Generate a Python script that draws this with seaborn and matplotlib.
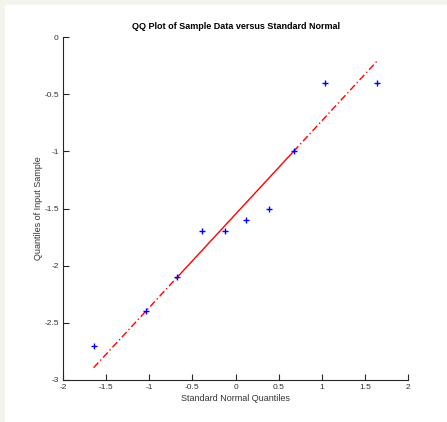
import matplotlib
matplotlib.use("Agg")
import seaborn as sns
import matplotlib.pyplot as plt
from matplotlib.patches import Rectangle

# data
normal_quantiles = [-1.645, -1.036, -0.674, -0.385, -0.126, 0.126, 0.385, 0.674, 1.036, 1.645]
sample_values = [-2.7, -2.4, -2.1, -1.7, -1.7, -1.6, -1.5, -1.0, -0.4, -0.4]
x_ticks = [-2, -1.5, -1, -0.5, 0, 0.5, 1, 1.5, 2]
y_ticks = [-3, -2.5, -2, -1.5, -1, -0.5, 0]

# reference line through the first and third quartiles
qx1, qy1 = normal_quantiles[2], sample_values[2]
qx3, qy3 = normal_quantiles[7], sample_values[7]
slope = (qy3 - qy1) / (qx3 - qx1)
def ref_y(x):
    return qy1 + slope * (x - qx1)

inner_x = [qx1, qx3]
outer_lo_x = [normal_quantiles[0], qx1]
outer_hi_x = [qx3, normal_quantiles[-1]]

sns.set_theme(style="white")
plt.rcParams["font.family"] = ["Liberation Sans", "DejaVu Sans"]
plt.rcParams["axes.unicode_minus"] = False

fig = plt.figure(figsize=(4.47, 4.22), dpi=100, facecolor="white")
fig.patches.append(Rectangle((0, 0), 1, 1, transform=fig.transFigure,
                             facecolor="#f4f4ee", edgecolor="none", zorder=-2))
fig.patches.append(Rectangle((5 / 447, 0), 1, 1 - 5 / 422, transform=fig.transFigure,
                             facecolor="white", edgecolor="none", zorder=-1))
ax = fig.add_axes([63 / 447, 42 / 422, 345 / 447, 343 / 422])
ax.set_facecolor("white")

dashdot = (0, (5, 2, 1, 2))
sns.lineplot(x=outer_lo_x, y=[ref_y(v) for v in outer_lo_x], ax=ax,
             color="red", linestyle=dashdot, linewidth=1.0)
sns.lineplot(x=outer_hi_x, y=[ref_y(v) for v in outer_hi_x], ax=ax,
             color="red", linestyle=dashdot, linewidth=1.0)
sns.lineplot(x=inner_x, y=[ref_y(v) for v in inner_x], ax=ax,
             color="red", linestyle="-", linewidth=1.0)
sns.scatterplot(x=normal_quantiles, y=sample_values, ax=ax, marker="+",
                color="blue", s=20, linewidth=1.0, zorder=3)

ax.set_xlim(-2, 2)
ax.set_ylim(-3, 0)
ax.set_xticks(x_ticks)
ax.set_yticks(y_ticks)
ax.set_xticklabels([f"{t:g}" for t in x_ticks])
ax.set_yticklabels([f"{t:g}" for t in y_ticks])

for side in ["top", "right"]:
    ax.spines[side].set_visible(False)
for side in ["left", "bottom"]:
    ax.spines[side].set_color("#262626")
    ax.spines[side].set_linewidth(0.8)
ax.tick_params(direction="in", length=4, width=0.8, colors="#262626",
               labelsize=6, labelcolor="#333333", pad=3, left=True, bottom=True)

ax.set_xlabel("Standard Normal Quantiles", fontsize=6.5, color="#333333", labelpad=2)
ax.set_ylabel("Quantiles of Input Sample", fontsize=6.5, color="#333333", labelpad=1)
ax.set_title("QQ Plot of Sample Data versus Standard Normal",
             fontsize=6.5, fontweight="bold", color="black", pad=6)

fig.savefig("out.png", dpi=100, facecolor=fig.get_facecolor())
